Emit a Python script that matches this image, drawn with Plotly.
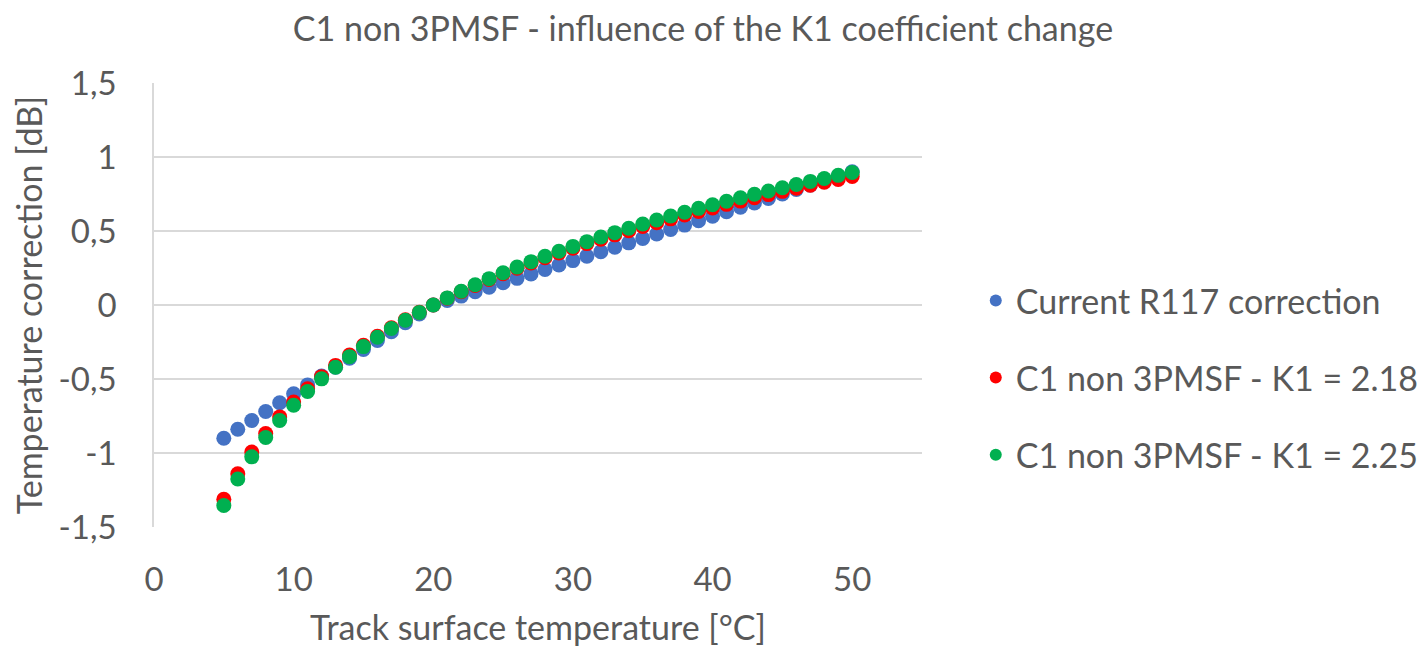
import plotly.graph_objects as go

temps = list(range(5, 51))

r117 = [-0.90, -0.84, -0.78, -0.72, -0.66, -0.60, -0.54, -0.48, -0.42, -0.36,
        -0.30, -0.24, -0.18, -0.12, -0.06, 0.00, 0.03, 0.06, 0.09, 0.12,
        0.15, 0.18, 0.21, 0.24, 0.27, 0.30, 0.33, 0.36, 0.39, 0.42,
        0.45, 0.48, 0.51, 0.54, 0.57, 0.60, 0.63, 0.66, 0.69, 0.72,
        0.75, 0.78, 0.81, 0.84, 0.87, 0.90]

k218 = [-1.312, -1.140, -0.994, -0.868, -0.756, -0.656, -0.566, -0.484, -0.408, -0.338,
        -0.272, -0.211, -0.154, -0.100, -0.049, 0.000, 0.046, 0.090, 0.132, 0.173,
        0.211, 0.248, 0.284, 0.319, 0.352, 0.384, 0.415, 0.445, 0.474, 0.502,
        0.530, 0.556, 0.582, 0.608, 0.632, 0.656, 0.680, 0.702, 0.725, 0.746,
        0.768, 0.789, 0.809, 0.829, 0.848, 0.868]

k225 = [-1.355, -1.176, -1.026, -0.895, -0.780, -0.677, -0.584, -0.499, -0.421, -0.349,
        -0.281, -0.218, -0.159, -0.103, -0.050, 0.000, 0.048, 0.093, 0.137, 0.178,
        0.218, 0.256, 0.293, 0.329, 0.363, 0.396, 0.428, 0.459, 0.489, 0.519,
        0.547, 0.574, 0.601, 0.627, 0.653, 0.677, 0.701, 0.725, 0.748, 0.770,
        0.792, 0.814, 0.835, 0.855, 0.876, 0.895]

names = ["Current R117 correction", "C1 non 3PMSF - K1 = 2.18", "C1 non 3PMSF - K1 = 2.25"]
colors = ["#4472C4", "#FF0000", "#00B050"]

x_ticks = [0, 10, 20, 30, 40, 50]
y_ticks = [-1.5, -1, -0.5, 0, 0.5, 1, 1.5]
y_tick_labels = ["-1,5", "-1", "-0,5", "0", "0,5", "1", "1,5"]

fig = go.Figure()
for i, (name, ys, col) in enumerate(zip(names, [r117, k218, k225], colors)):
    fig.add_trace(go.Scatter(x=temps, y=ys, mode="markers", name=name, legendgroup=f"g{i}",
                             marker=dict(color=col, size=15, line=dict(width=0))))

font_fam = "Lato, Open Sans, sans-serif"
txt = "#595959"
fig.update_layout(
    width=1427, height=646,
    paper_bgcolor="white", plot_bgcolor="white",
    separators=", ",
    font=dict(family=font_fam, color=txt),
    margin=dict(l=146, r=513, t=75, b=127, autoexpand=False),
    title=dict(text="C1 non 3PMSF - influence of the K1 coefficient change",
               x=0.487, xanchor="center", y=0.968, yanchor="middle",
               font=dict(size=34, color=txt)),
    xaxis=dict(range=[0, 55], tickvals=x_ticks, showgrid=False, zeroline=False,
               showline=False, ticks="", tickfont=dict(size=33, color=txt),
               ticklabelstandoff=30, automargin=False,
               title=dict(text="Track surface temperature [°C]", font=dict(size=34, color=txt),
                          standoff=19)),
    yaxis=dict(range=[-1.5, 1.5], tickvals=y_ticks, ticktext=y_tick_labels,
               showgrid=True, gridcolor="#D9D9D9",
               gridwidth=1.5, zeroline=False, showline=True, linecolor="#D9D9D9", linewidth=1.5,
               ticks="", tickfont=dict(size=33, color=txt), ticklabelstandoff=29, automargin=False,
               title=dict(text="Temperature correction [dB]", font=dict(size=34, color=txt),
                          standoff=9)),
    legend=dict(x=1.07, xanchor="left", y=0.336, yanchor="middle",
                font=dict(size=34, color=txt), itemsizing="constant",
                tracegroupgap=30, bgcolor="rgba(0,0,0,0)"),
)

fig.write_html("out.html")
